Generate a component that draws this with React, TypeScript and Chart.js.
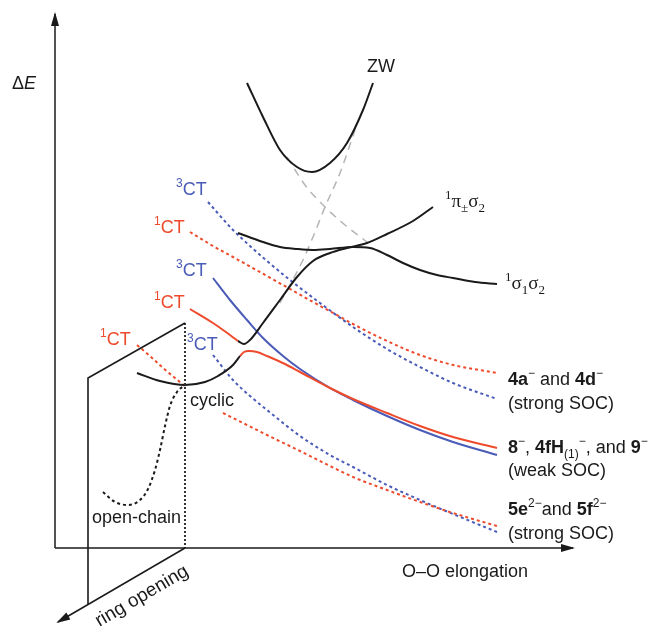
import React, { useEffect, useRef } from "react";
import { Chart, registerables } from "chart.js";

Chart.register(...registerables);

type P = [number, number];

// Energy diagram, schematic units: x = O–O elongation, y = ΔE (axis origin at 0,0)
const zwCurve: P[] = [[192, 465], [208, 431], [225, 398], [242, 381], [257, 376], [275, 385], [292, 405], [308, 438], [318, 465]];
const diabaticA: P[] = [[232, 391], [250, 363], [270, 341], [290, 323], [312, 306]];
const diabaticB: P[] = [[225, 245], [248, 288], [258, 311], [270, 341], [285, 375], [300, 418]];
const sigmaSigma: P[] = [[183, 315], [208, 306], [225, 301], [242, 299], [258, 298], [275, 299], [298, 301], [315, 300], [332, 293], [348, 285], [365, 278], [382, 273], [398, 270], [420, 266], [442, 264]];
const piSigma: P[] = [[183, 207], [189, 204], [195, 208], [208, 225], [225, 248], [242, 271], [258, 287], [275, 295], [292, 300], [312, 305], [332, 314], [358, 327], [378, 341]];
const ct1UpperSolid: P[] = [[135, 239], [158, 225], [175, 213], [183, 207]];
const cyclicGround: P[] = [[82, 175], [105, 167], [130, 163], [150, 166], [163, 172], [178, 183], [185, 192]];
const ct1LowerSolid: P[] = [[185, 192], [189, 196], [194, 197], [202, 196], [212, 192], [230, 184], [245, 176], [275, 160], [298, 149], [332, 135], [365, 122], [398, 111], [442, 100]];
const ct3Solid: P[] = [[158, 270], [175, 248], [192, 228], [208, 210], [228, 192], [245, 179], [275, 160], [298, 148], [332, 132], [365, 118], [398, 106], [442, 93]];
const ct3UpperDotted: P[] = [[153, 346], [178, 318], [195, 302], [212, 287], [235, 268], [265, 245], [298, 221], [332, 199], [365, 181], [398, 165], [442, 149]];
const ct1UpperDotted: P[] = [[135, 316], [158, 302], [178, 291], [212, 272], [235, 259], [258, 246], [280, 234], [298, 224], [332, 207], [365, 193], [398, 183], [442, 175]];
const ct1BackDotted: P[] = [[82, 203], [95, 192], [108, 180], [120, 170], [132, 160]];
const ct1LowerDotted: P[] = [[168, 135], [190, 124], [212, 113], [245, 97], [275, 82], [298, 71], [332, 58], [365, 46], [398, 35], [442, 22]];
const ct3LowerDotted: P[] = [[158, 193], [178, 168], [195, 152], [212, 138], [245, 112], [275, 93], [298, 81], [332, 63], [365, 48], [398, 34], [442, 16]];
const openChain: P[] = [[48, 56], [60, 46], [73, 43], [85, 48], [93, 59], [100, 78], [105, 98], [110, 122], [115, 142], [122, 156], [130, 163]];
const backPlane: P[] = [[33, -56], [33, 170], [130, 225]];
const cyclicSection: P[] = [[130, 225], [130, 0]];
const ringAxis: P[] = [[130, 0], [3, -74]];
const energyAxis: P[] = [[0, 0], [0, 534]];
const elongationAxis: P[] = [[0, 0], [518, 0]];

const xRange: P = [-55, 598];
const yRange: P = [-81, 548];

type Seg = { t: string; b?: boolean; i?: boolean; sup?: boolean; sub?: boolean };
type Label = { x: number; y: number; segs: Seg[]; color: string; serif?: boolean; size?: number };

const RED = "#ee4a2c";
const BLUE = "#4a5bb8";
const INK = "#1a1a1a";

const ct = (n: string): Seg[] => [{ t: n, sup: true }, { t: "CT" }];

const labels: Label[] = [
  { x: -43, y: 459, segs: [{ t: "Δ" }, { t: "E", i: true }], color: INK },
  { x: 312, y: 476, segs: [{ t: "ZW" }], color: INK },
  { x: 390, y: 341, segs: [{ t: "1", sup: true }, { t: "π" }, { t: "±", sub: true }, { t: "σ" }, { t: "2", sub: true }], color: INK, serif: true, size: 19 },
  { x: 450, y: 259, segs: [{ t: "1", sup: true }, { t: "σ" }, { t: "1", sub: true }, { t: "σ" }, { t: "2", sub: true }], color: INK, serif: true, size: 19 },
  { x: 121, y: 353, segs: ct("3"), color: BLUE },
  { x: 99, y: 315, segs: ct("1"), color: RED },
  { x: 121, y: 272, segs: ct("3"), color: BLUE },
  { x: 99, y: 240, segs: ct("1"), color: RED },
  { x: 45, y: 203, segs: ct("1"), color: RED },
  { x: 132, y: 198, segs: ct("3"), color: BLUE },
  { x: 135, y: 142, segs: [{ t: "cyclic" }], color: INK },
  { x: 37, y: 25, segs: [{ t: "open-chain" }], color: INK },
  { x: 347, y: -29, segs: [{ t: "O–O elongation" }], color: INK },
  { x: 453, y: 163, segs: [{ t: "4a", b: true }, { t: "−", sup: true }, { t: " and " }, { t: "4d", b: true }, { t: "−", sup: true }], color: INK },
  { x: 453, y: 139, segs: [{ t: "(strong SOC)" }], color: INK },
  { x: 453, y: 95, segs: [{ t: "8", b: true }, { t: "−", sup: true }, { t: ", " }, { t: "4fH", b: true }, { t: "(1)", sub: true }, { t: "−", sup: true }, { t: ", and " }, { t: "9", b: true }, { t: "−", sup: true }], color: INK },
  { x: 453, y: 72, segs: [{ t: "(weak SOC)" }], color: INK },
  { x: 453, y: 33, segs: [{ t: "5e", b: true }, { t: "2−", sup: true }, { t: "and " }, { t: "5f", b: true }, { t: "2−", sup: true }], color: INK },
  { x: 453, y: 9, segs: [{ t: "(strong SOC)" }], color: INK },
];
const ringLabel = "ring opening";

const SANS = '"Liberation Sans", Arial, Helvetica, sans-serif';
const SERIF = '"Liberation Serif", "Times New Roman", serif';

function drawRich(ctx: CanvasRenderingContext2D, x: number, y: number, segs: Seg[], size: number, family: string) {
  let cx = x;
  for (const s of segs) {
    const small = s.sup || s.sub;
    const sz = small ? Math.round(size * 0.66) : size;
    ctx.font = `${s.i ? "italic " : ""}${s.b ? "bold " : ""}${sz}px ${family}`;
    const dy = s.sup ? -size * 0.42 : s.sub ? size * 0.28 : 0;
    ctx.fillText(s.t, cx, y + dy);
    cx += ctx.measureText(s.t).width;
  }
}

const textPlugin = {
  id: "schemeText",
  afterDatasetsDraw(chart: any) {
    const ctx: CanvasRenderingContext2D = chart.ctx;
    const xs = chart.scales.x;
    const ys = chart.scales.y;
    ctx.save();
    ctx.textBaseline = "alphabetic";
    ctx.textAlign = "left";
    for (const l of labels) {
      ctx.fillStyle = l.color;
      drawRich(ctx, xs.getPixelForValue(l.x), ys.getPixelForValue(l.y), l.segs, l.size || 18, l.serif ? SERIF : SANS);
    }
    // arrowheads
    chart.data.datasets.forEach((ds: any, i: number) => {
      if (!ds.arrow) return;
      const pts = chart.getDatasetMeta(i).data;
      const a = pts[pts.length - 2];
      const b = pts[pts.length - 1];
      const ang = Math.atan2(b.y - a.y, b.x - a.x);
      const L = 12, W = 4;
      ctx.fillStyle = INK;
      ctx.beginPath();
      ctx.moveTo(b.x + Math.cos(ang) * 2, b.y + Math.sin(ang) * 2);
      ctx.lineTo(b.x - Math.cos(ang) * L - Math.sin(ang) * W, b.y - Math.sin(ang) * L + Math.cos(ang) * W);
      ctx.lineTo(b.x - Math.cos(ang) * L + Math.sin(ang) * W, b.y - Math.sin(ang) * L - Math.cos(ang) * W);
      ctx.closePath();
      ctx.fill();
    });
    // rotated ring-opening label below its axis
    const p0x = xs.getPixelForValue(ringAxis[0][0]);
    const p0y = ys.getPixelForValue(ringAxis[0][1]);
    const p1x = xs.getPixelForValue(ringAxis[1][0]);
    const p1y = ys.getPixelForValue(ringAxis[1][1]);
    const ang = Math.atan2(p0y - p1y, p0x - p1x);
    const mx = (p0x + p1x) / 2, my = (p0y + p1y) / 2;
    const n = 20, t = 12;
    ctx.translate(mx - Math.sin(ang) * n + Math.cos(ang) * t, my + Math.cos(ang) * n + Math.sin(ang) * t);
    ctx.rotate(ang);
    ctx.fillStyle = INK;
    ctx.font = `19px ${SANS}`;
    ctx.textAlign = "center";
    ctx.textBaseline = "middle";
    ctx.fillText(ringLabel, 0, 0);
    ctx.restore();
  },
};

const pts = (a: P[]) => a.map(([x, y]) => ({ x, y }));

function line(data: P[], color: string, width: number, opts: any = {}) {
  return {
    data: pts(data),
    showLine: true,
    borderColor: color,
    backgroundColor: color,
    borderWidth: width,
    pointRadius: 0,
    fill: false,
    cubicInterpolationMode: "monotone",
    ...opts,
  };
}

export default function App() {
  const ref = useRef<HTMLCanvasElement>(null);
  useEffect(() => {
    if (!ref.current) return;
    const dot = [3, 3];
    const straight = { cubicInterpolationMode: "default", tension: 0 };
    const chart = new Chart(ref.current, {
      type: "scatter",
      data: {
        datasets: [
          line(energyAxis, INK, 1.5, { ...straight, arrow: true }),
          line(elongationAxis, INK, 1.5, { ...straight, arrow: true }),
          line(ringAxis, INK, 1.5, { ...straight, arrow: true }),
          line(backPlane, INK, 1.6, straight),
          line(cyclicSection, "#333", 2, { ...straight, borderDash: [2, 2] }),
          line(zwCurve, INK, 2),
          line(sigmaSigma, INK, 2),
          line(piSigma, INK, 2),
          line(cyclicGround, INK, 2),
          line(openChain, INK, 2, { borderDash: dot }),
          line(ct1UpperSolid, RED, 2),
          line(ct1LowerSolid, RED, 2),
          line(ct3Solid, BLUE, 2),
          line(ct3UpperDotted, BLUE, 2, { borderDash: dot }),
          line(ct1UpperDotted, RED, 2, { borderDash: dot }),
          line(ct1BackDotted, RED, 2, { borderDash: dot }),
          line(ct1LowerDotted, RED, 2, { borderDash: dot }),
          line(ct3LowerDotted, BLUE, 2, { borderDash: dot }),
          line(diabaticA, "#b5b5b5", 1.5, { borderDash: [8, 6] }),
          line(diabaticB, "#b5b5b5", 1.5, { borderDash: [8, 6] }),
        ] as any,
      },
      options: {
        animation: false,
        responsive: false,
        devicePixelRatio: 1,
        layout: { padding: 0 },
        plugins: { legend: { display: false }, tooltip: { enabled: false } },
        scales: {
          x: { type: "linear", min: xRange[0], max: xRange[1], display: false },
          y: { type: "linear", min: yRange[0], max: yRange[1], display: false },
        },
      },
      plugins: [textPlugin],
    });
    return () => chart.destroy();
  }, []);
  return (
    <div style={{ position: "fixed", left: 0, top: 0, width: 653, height: 629, background: "#fff" }}>
      <canvas ref={ref} width={653} height={629} style={{ display: "block" }} />
    </div>
  );
}
